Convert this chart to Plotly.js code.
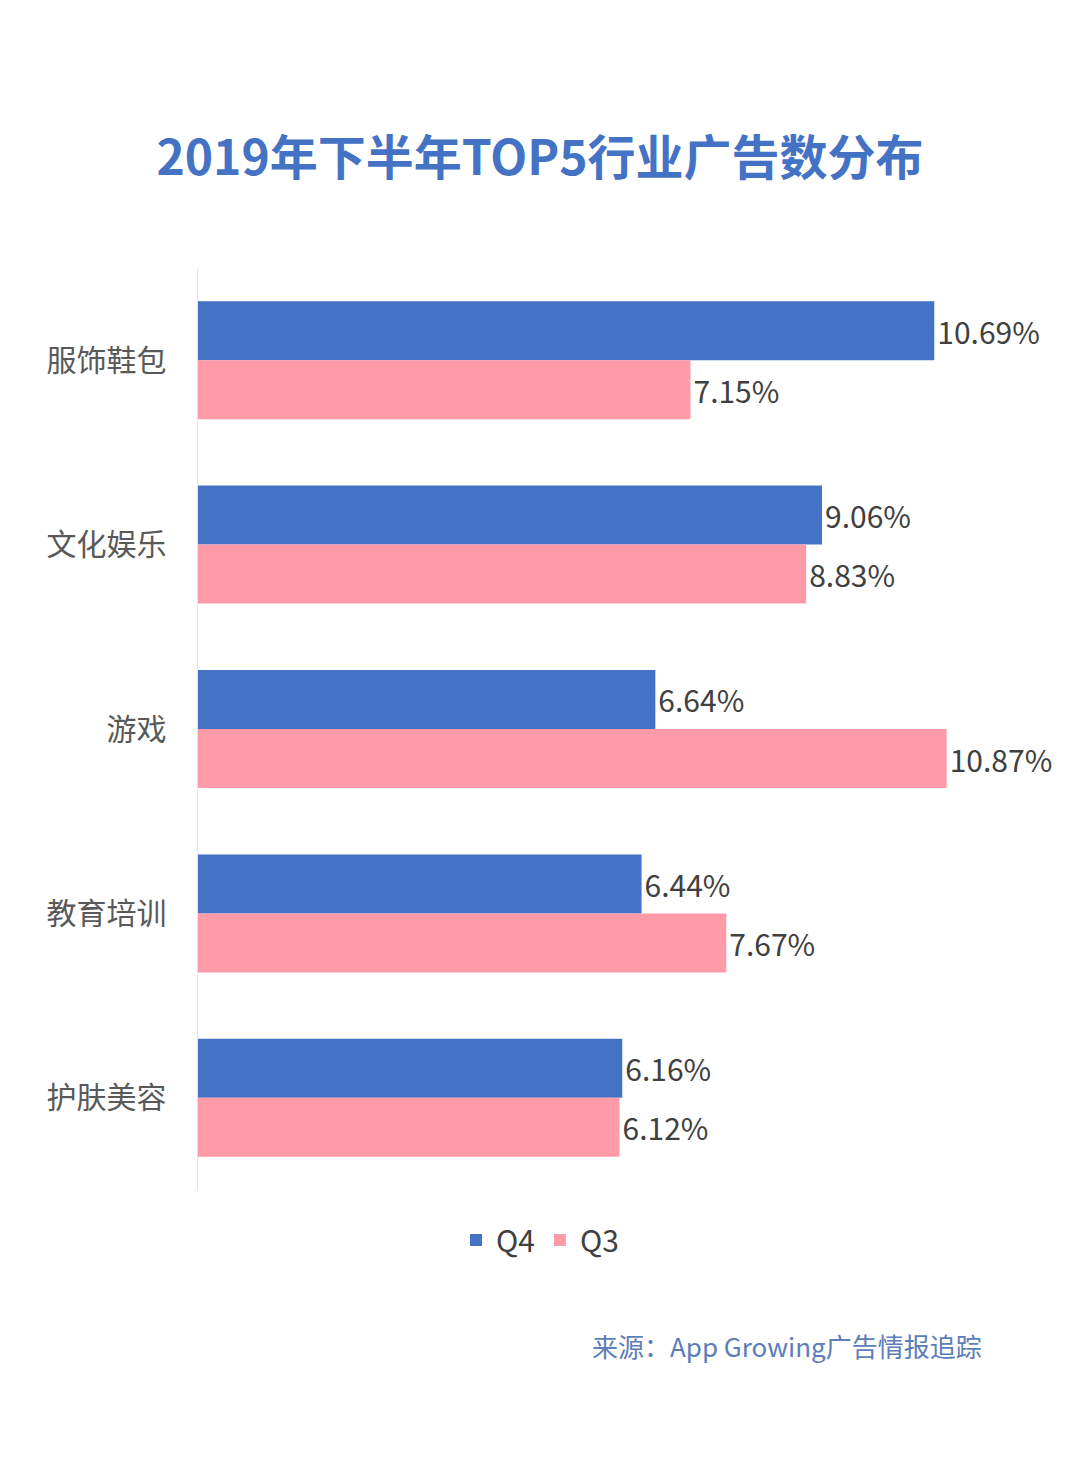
<!DOCTYPE html>
<html>
<head>
<meta charset="utf-8">
<script src="https://cdn.plot.ly/plotly-3.0.1.min.js"></script>
<style>html,body{margin:0;padding:0;background:#fff;}#chart{width:1080px;height:1475px;}</style>
</head>
<body>
<div id="chart"></div>
<script>
var categories = ["服饰鞋包", "文化娱乐", "游戏", "教育培训", "护肤美容"];
var q4Values = [10.69, 9.06, 6.64, 6.44, 6.16];
var q3Values = [7.15, 8.83, 10.87, 7.67, 6.12];
var seriesNames = ["Q4", "Q3"];

var FONT = '"Noto Sans CJK SC", "Noto Sans", sans-serif';

function labels(arr) { return arr.map(function (v) { return v.toFixed(2) + "%"; }); }

var traces = [
  {
    type: "bar", orientation: "h", name: seriesNames[0],
    y: categories, x: q4Values,
    text: labels(q4Values), textposition: "outside", cliponaxis: false,
    textfont: {size: 30, color: "#404040", family: FONT},
    marker: {color: "#4472C4"}, hoverinfo: "none"
  },
  {
    type: "bar", orientation: "h", name: seriesNames[1],
    y: categories, x: q3Values,
    text: labels(q3Values), textposition: "outside", cliponaxis: false,
    textfont: {size: 30, color: "#404040", family: FONT},
    marker: {color: "#FF9BA8"}, hoverinfo: "none"
  }
];

var L = 198, R = 1080 - 30, T = 268, B = 1475 - 285;

var layout = {
  width: 1080, height: 1475,
  paper_bgcolor: "#ffffff", plot_bgcolor: "#ffffff",
  margin: {l: L, r: 1080 - R, t: T, b: 1475 - B, pad: 0},
  font: {family: FONT, color: "#404040"},
  title: {
    text: "<b>2019年下半年TOP5行业广告数分布</b>",
    font: {size: 48, color: "#4472C4", family: FONT},
    x: 0.5, xref: "container", xanchor: "center",
    y: 1 - 158 / 1475, yref: "container", yanchor: "middle"
  },
  barmode: "group", bargap: 0.36, bargroupgap: 0,
  xaxis: {
    range: [0, 12.37], showgrid: false, zeroline: false,
    showticklabels: false, showline: false, fixedrange: true
  },
  yaxis: {
    autorange: "reversed", showgrid: false, zeroline: false,
    showline: true, linecolor: "#e3e3e3", linewidth: 1.5,
    ticks: "", ticklabelstandoff: 24,
    tickfont: {size: 30, color: "#595959", family: FONT}
  },
  showlegend: true,
  legend: {
    orientation: "h", x: 0.5, xref: "container", xanchor: "center",
    y: 1 - 1240 / 1475, yref: "container", yanchor: "middle",
    font: {size: 30, color: "#404040", family: FONT},
    itemwidth: 30, tracegroupgap: 0
  },
  annotations: [
    {
      text: "来源：App Growing广告情报追踪",
      xref: "paper", yref: "paper",
      x: (984 - L) / (R - L), xanchor: "right",
      y: (B - 1345) / (B - T), yanchor: "middle",
      showarrow: false,
      font: {size: 26, color: "#5B7DB8", family: FONT}
    }
  ]
};

Plotly.newPlot("chart", traces, layout, {displayModeBar: false, staticPlot: true});
</script>
</body>
</html>
